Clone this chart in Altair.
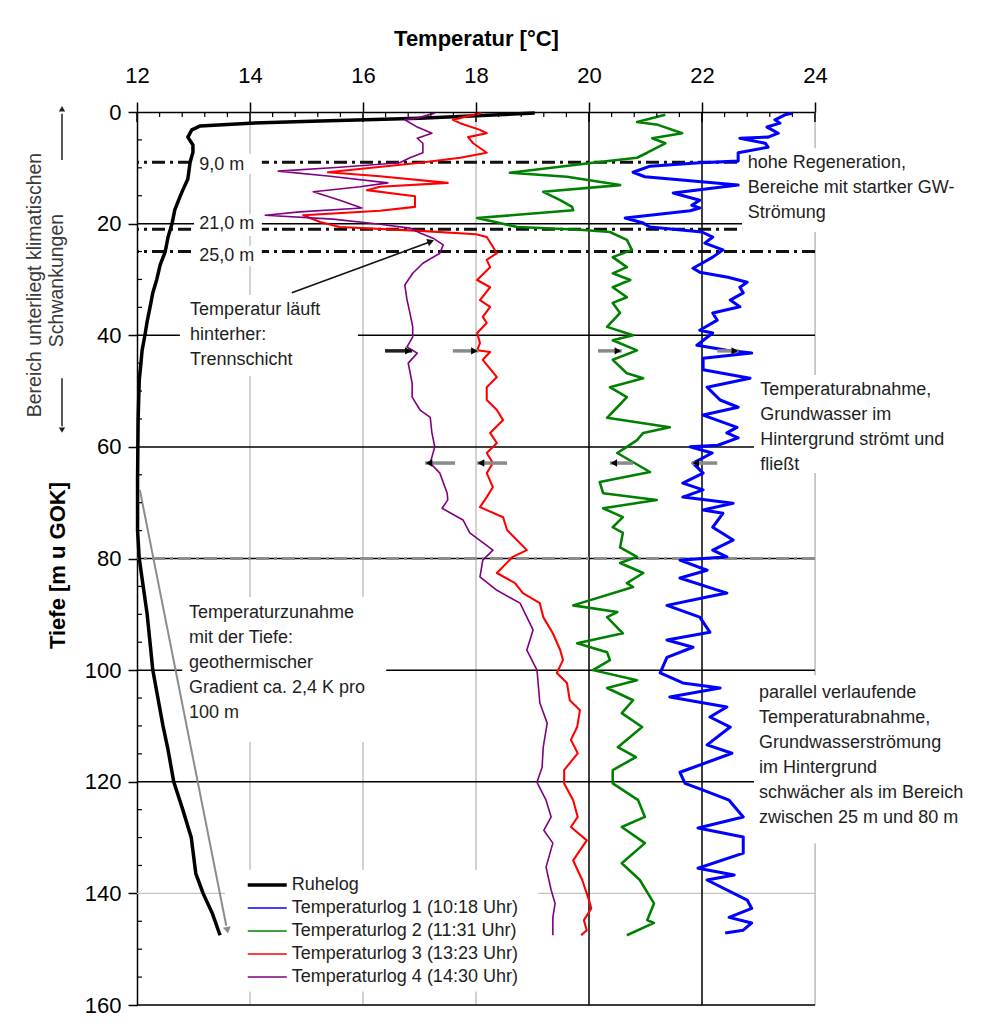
import altair as alt
import pandas as pd

FONT = "Liberation Sans"
TXT = "#1e1e1e"

# ---------------- data ----------------
series_names = ["Ruhelog", "Temperaturlog 1 (10:18 Uhr)", "Temperaturlog 2 (11:31 Uhr)",
                "Temperaturlog 3 (13:23 Uhr)", "Temperaturlog 4 (14:30 Uhr)"]
series_colors = ["#000000", "#0000ff", "#008000", "#ff0000", "#800080"]
series_widths = [3.5, 1.6, 1.6, 1.6, 1.6]

ruhe_depth = [0.2, 1.1, 1.6, 2.0, 2.5, 3.2, 4.5, 5.9, 7.2, 9, 12, 14, 15.2, 17.5, 20, 22.4, 25, 27.4, 30, 32.4,
              35, 37.5, 40, 42.7, 45, 48, 55, 66, 75, 80, 85, 90, 95, 100, 105, 110, 114.3, 120, 125, 130,
              136.4, 140, 143.5, 147.5]
ruhe_temp = [19.04, 17.0, 15.24, 14.0, 13.12, 12.97, 12.9, 12.99, 12.99, 12.94, 12.9, 12.81, 12.76, 12.67, 12.62,
             12.55, 12.5, 12.41, 12.35, 12.28, 12.23, 12.18, 12.14, 12.09, 12.07, 12.04, 12.02, 12.01, 12.01, 12.04,
             12.11, 12.18, 12.23, 12.28, 12.37, 12.46, 12.55, 12.65, 12.81, 12.96, 13.04, 13.17, 13.33, 13.47]

log1_depth = [0.2, 0.5, 1.4, 2.0, 2.7, 3.8, 4.5, 4.7, 5.6, 6.3, 7.3, 8.8, 9.1, 9.7, 10.8, 11.6, 13.1, 14.5, 15.8, 16.7,
              17.2, 17.7, 19.0, 19.9, 20.6, 21.5, 22.4, 23.5, 24.7, 26.0, 27.1, 28.0, 28.7, 29.6, 30.5, 31.4, 32.4, 33.7, 34.9, 36.0,
              37.3, 39.1, 39.6, 41.8, 42.7, 43.2, 44.1, 46.2, 47.7, 49.3, 51.6, 52.9, 54.3, 56.5, 57.5, 58.4, 59.7, 60.0, 61.1, 62.9,
              64.7, 66.5, 67.7, 69.0, 70.1, 71.3, 71.9, 74.4, 76.7, 78.5, 79.7, 80.3, 82.1, 83.5, 86.2, 86.9, 88.4, 90.5, 93.2, 94.6,
              95.9, 97.7, 100.5, 102.3, 103.2, 104.8, 106.6, 108.4, 110.2, 113.4, 114.9, 118.3, 120.3, 121.5, 123.3, 126.3, 128.3, 129.9, 132.8, 135.5,
              136.7, 137.6, 141.2, 142.7, 144.3, 145.3, 146.6, 147.1]
log1_temp = [23.61, 23.47, 23.29, 23.38, 23.15, 23.35, 23.17, 22.67, 23.12, 23.17, 22.64, 22.64, 21.96, 21.08, 20.78, 20.99, 22.64, 21.49, 21.96, 21.82,
             21.96, 21.79, 20.64, 20.96, 21.08, 22.0, 22.19, 22.05, 22.37, 22.19, 22.0, 21.84, 21.96, 22.46, 22.80, 22.67, 22.73, 22.50, 22.67, 22.19,
             22.27, 21.96, 22.19, 21.91, 22.44, 22.88, 22.02, 22.02, 22.85, 22.09, 22.32, 22.64, 22.02, 22.62, 22.44, 22.64, 22.28, 21.79, 22.18, 21.84,
             22.02, 21.66, 22.02, 21.66, 22.55, 22.02, 22.37, 22.19, 22.55, 22.19, 22.44, 21.61, 22.09, 21.61, 22.44, 22.09, 21.38, 21.96, 22.14, 21.38,
             21.84, 21.38, 21.26, 21.66, 22.32, 21.43, 22.44, 22.14, 22.50, 22.09, 22.53, 21.61, 21.70, 22.02, 22.48, 22.73, 21.93, 22.73, 22.73, 21.93,
             22.57, 22.09, 22.80, 22.88, 22.48, 22.88, 22.73, 22.41]

log2_depth = [0.5, 1.8, 2.3, 3.8, 4.7, 5.6, 7.3, 8.2, 9.1, 10.9, 11.6, 13.1, 14.3, 15.8, 17.0, 17.6, 19.0, 19.9, 20.6, 21.1,
              21.5, 22.9, 24.7, 26.0, 27.8, 28.9, 30.1, 31.4, 33.2, 34.2, 36.0, 38.5, 40.0, 40.9, 42.7, 44.4, 46.8, 47.7, 49.3, 51.1,
              52.9, 54.8, 56.5, 57.5, 58.8, 60.0, 61.1, 64.5, 66.3, 68.3, 69.5, 71.0, 72.6, 74.4, 75.4, 78.0, 79.7, 80.8, 82.6, 84.4,
              85.1, 88.4, 89.6, 90.5, 93.4, 95.2, 96.8, 98.2, 100.0, 101.8, 103.2, 105.4, 107.7, 110.2, 113.8, 115.6, 117.9, 120.3, 123.3, 126.3,
              128.1, 131.0, 134.6, 137.6, 141.8, 144.8, 145.3, 147.5]
log2_temp = [21.35, 20.85, 21.22, 21.65, 21.12, 21.35, 21.03, 20.85, 20.07, 18.60, 19.61, 20.55, 19.19, 19.49, 19.70, 19.72, 18.02, 18.42, 18.73, 19.84,
             20.37, 20.67, 20.76, 20.42, 20.67, 20.42, 20.73, 20.42, 20.67, 20.42, 20.55, 20.32, 20.78, 20.42, 20.85, 20.42, 20.67, 20.96, 20.37, 20.67,
             20.50, 20.32, 21.43, 20.96, 20.85, 20.67, 20.50, 21.08, 20.19, 20.25, 21.20, 20.25, 20.60, 20.42, 20.60, 20.55, 20.85, 20.55, 20.96, 20.67,
             20.78, 19.72, 20.50, 20.32, 20.60, 19.79, 20.32, 20.37, 20.07, 20.85, 20.32, 20.78, 20.58, 20.94, 20.51, 20.83, 20.42, 20.42, 20.87, 20.99,
             20.58, 20.99, 20.58, 20.90, 21.15, 21.03, 21.15, 20.67]

log3_depth = [0.2, 1.4, 2.0, 3.2, 3.8, 4.5, 5.6, 7.3, 8.2, 9.1, 10.8, 11.5, 12.7, 13.4, 14.0, 15.1, 17.0, 17.7, 18.5, 19.7,
              20.6, 21.3, 21.9, 22.4, 25.3, 26.5, 27.8, 30.1, 31.4, 33.7, 34.9, 36.7, 37.8, 39.6, 41.4, 42.7, 43.0, 44.4, 47.5, 49.3,
              51.6, 53.4, 55.2, 57.5, 59.3, 61.1, 62.9, 64.7, 67.2, 69.0, 70.8, 72.6, 74.9, 78.5, 79.7, 82.6, 84.4, 86.2, 88.0, 90.5,
              93.4, 96.4, 98.2, 100.5, 102.3, 105.4, 107.2, 110.2, 112.5, 114.9, 117.9, 120.3, 123.3, 126.3, 128.1, 130.5, 134.1, 137.6, 141.2, 142.7,
              144.8, 146.6, 147.5]
log3_temp = [18.09, 17.59, 17.72, 18.07, 18.19, 17.86, 17.95, 18.19, 17.72, 17.01, 15.38, 16.30, 17.50, 16.30, 16.07, 16.92, 16.92, 16.30, 14.94, 15.24,
             15.59, 17.01, 18.0, 18.19, 18.37, 18.19, 18.25, 18.02, 18.25, 18.07, 18.25, 18.12, 18.19, 18.02, 18.07, 18.02, 18.25, 18.12, 18.37, 18.19,
             18.19, 18.37, 18.48, 18.25, 18.37, 18.19, 18.30, 18.19, 18.30, 18.19, 18.07, 18.48, 18.55, 18.90, 18.65, 18.37, 18.69, 18.83, 19.13, 19.19,
             19.36, 19.49, 19.54, 19.43, 19.61, 19.66, 19.84, 19.79, 19.68, 19.80, 19.56, 19.56, 19.72, 19.80, 19.68, 19.96, 19.72, 19.88, 20.0, 20.04,
             19.91, 19.96, 19.86]

log4_depth = [0.2, 1.1, 1.4, 2.7, 3.8, 4.7, 5.6, 7.3, 8.2, 9.1, 9.9, 10.6, 11.5, 12.7, 13.4, 14.3, 15.8, 17.2, 17.9, 18.5,
              19.2, 20.1, 20.8, 21.7, 22.6, 23.8, 25.3, 27.1, 28.9, 31.0, 33.7, 36.0, 38.5, 40.3, 42.1, 43.2, 45.0, 48.6, 51.1, 53.4,
              54.7, 57.5, 60.0, 62.9, 64.7, 68.3, 69.5, 71.0, 73.1, 75.4, 78.5, 80.3, 83.3, 85.7, 88.0, 92.8, 96.4, 100.0, 105.9, 109.5,
              113.8, 117.4, 120.1, 123.3, 126.3, 128.7, 131.0, 135.3, 139.4, 141.8, 144.3, 147.5]
log4_temp = [17.27, 16.96, 16.74, 16.96, 17.22, 16.96, 17.06, 17.06, 16.83, 16.65, 15.59, 14.50, 15.42, 16.44, 15.95, 15.12, 15.59, 15.98, 14.88, 14.27,
             15.47, 16.30, 16.83, 17.01, 17.24, 17.42, 17.36, 17.06, 16.88, 16.74, 16.78, 16.83, 16.88, 16.88, 16.78, 16.96, 16.80, 16.87, 16.87, 17.01,
             17.19, 17.22, 17.27, 17.19, 17.36, 17.49, 17.50, 17.40, 17.77, 17.89, 18.30, 18.12, 18.07, 18.37, 18.78, 19.01, 18.90, 19.08, 19.13, 19.26,
             19.19, 19.17, 19.08, 19.24, 19.33, 19.20, 19.36, 19.24, 19.33, 19.40, 19.36, 19.36]

x_tick_values = [12, 14, 16, 18, 20, 22, 24]
y_tick_values = [0, 20, 40, 60, 80, 100, 120, 140, 160]
grid_gray_x = [14, 16, 18, 24]
grid_black_x = [20, 22]
grid_black_y = [20, 40, 60, 80, 100, 120, 160]
grid_gray_y = [140]
marker_depths = [9, 21, 25]
marker_labels = ["9,0 m", "21,0 m", "25,0 m"]

# ---------------- tables ----------------
rows = []
for name, ds, ts in zip(series_names,
                        [ruhe_depth, log1_depth, log2_depth, log3_depth, log4_depth],
                        [ruhe_temp, log1_temp, log2_temp, log3_temp, log4_temp]):
    for i, (d, t) in enumerate(zip(ds, ts)):
        rows.append({"series": name, "depth": d, "temp": t, "idx": i})
curves_df = pd.DataFrame(rows)

XS = alt.Scale(domain=[12, 24], nice=False, zero=False)
YS = alt.Scale(domain=[0, 160], reverse=True, nice=False, zero=False)

x_axis = alt.Axis(orient="top", values=x_tick_values, title="Temperatur [°C]", titleFont=FONT,
                  titleFontSize=22, titleFontWeight="bold", titleColor="black", titleX=339, titleY=-74,
                  titleBaseline="middle", titleAlign="center", labelFont=FONT, labelFontSize=22, labelColor="black",
                  labelBaseline="middle", labelPadding=27, labelFlush=False, labelOverlap=False, tickSize=10,
                  tickWidth=1.5, tickColor="black", domainColor="black", domainWidth=1.5, grid=False)
y_axis = alt.Axis(orient="left", values=y_tick_values, title="Tiefe [m u GOK]", titleFont=FONT, titleFontSize=22,
                  titleFontWeight="bold", titleColor="black", titleX=-80, titleY=453, titleAngle=270,
                  titleBaseline="middle", titleAlign="center", labelFont=FONT, labelFontSize=22,
                  labelColor="black", labelPadding=7, labelFlush=False, labelOverlap=False, tickSize=9,
                  tickWidth=1.5, tickColor="black", domainColor="black", domainWidth=1.5, grid=False)


def xq(f):
    return alt.X(f, type="quantitative", scale=XS, axis=x_axis)


def yq(f):
    return alt.Y(f, type="quantitative", scale=YS, axis=y_axis)


# grid lines
gl_gray_v = alt.Chart(pd.DataFrame({"t": grid_gray_x})).mark_rule(color="#b4b4b4", strokeWidth=1.2).encode(x=xq("t"))
gl_black_v = alt.Chart(pd.DataFrame({"t": grid_black_x})).mark_rule(color="black", strokeWidth=1.5).encode(x=xq("t"))
gl_black_h = alt.Chart(pd.DataFrame({"d": grid_black_y})).mark_rule(color="black", strokeWidth=1.5).encode(y=yq("d"))
gl_gray_h = alt.Chart(pd.DataFrame({"d": grid_gray_y})).mark_rule(color="#c4c4c4", strokeWidth=1.2).encode(y=yq("d"))

# dash-dot markers
dash_black = alt.Chart(pd.DataFrame({"d": marker_depths})).mark_rule(
    color="#111111", strokeWidth=3, strokeDash=[13, 5, 3, 5]).encode(y=yq("d"))
dash_80 = alt.Chart(pd.DataFrame({"d": [80]})).mark_rule(
    color="#8c8c8c", strokeWidth=3, strokeDash=[13, 5, 3, 5]).encode(y=yq("d"))

# white boxes behind annotation texts
boxes_df = pd.DataFrame({
    "t1": [12.76, 12.80, 22.71, 22.92, 22.92, 13.01, 13.01, 13.01, 13.56],
    "t2": [15.91, 16.41, 26.8, 26.8, 26.8, 14.21, 14.21, 14.21, 19.10],
    "d1": [32.8, 86.9, 6.5, 47.1, 100.9, 7.5, 18.3, 24.0, 135.8],
    "d2": [47.3, 112.9, 21.5, 64.7, 131.0, 11.1, 22.2, 27.6, 157.6],
})
boxes = alt.Chart(boxes_df).mark_rect(color="white").encode(x=xq("t1"), x2="t2", y=yq("d1"), y2="d2")

# curves
curves = alt.Chart(curves_df).mark_line(strokeJoin="round").encode(
    x=xq("temp"),
    y=yq("depth"),
    color=alt.Color("series:N", scale=alt.Scale(domain=series_names, range=series_colors), legend=None),
    strokeWidth=alt.StrokeWidth("series:N", scale=alt.Scale(domain=series_names, range=series_widths), legend=None),
    order=alt.Order("idx:Q"),
)

# small horizontal arrows
shafts_df = pd.DataFrame({
    "t1": [16.39, 17.59, 20.16, 22.27, 17.10, 18.02, 20.37, 21.82],
    "t2": [16.87, 18.04, 20.58, 22.65, 17.63, 18.55, 20.78, 22.27],
    "d": [42.8] * 4 + [62.9] * 4,
    "c": ["#202020"] + ["#8a8a8a"] * 7,
})
shafts = alt.Chart(shafts_df).mark_rule(strokeWidth=3.5).encode(
    x=xq("t1"), x2="t2", y=yq("d"), color=alt.Color("c:N", scale=None))
heads_df = pd.DataFrame({
    "t": [16.80, 17.97, 20.51, 22.58, 17.17, 18.09, 20.44, 21.89],
    "d": [42.8] * 4 + [62.9] * 4,
    "s": ["triangle-right"] * 4 + ["triangle-left"] * 4,
})
heads = alt.Chart(heads_df).mark_point(filled=True, color="black", size=55, opacity=1).encode(
    x=xq("t"), y=yq("d"), shape=alt.Shape("s:N", scale=None))

# pointer arrows
ptr_df = pd.DataFrame({"t1": [14.74, 12.05], "t2": [17.18, 13.58], "d1": [32.4, 67.7], "d2": [23.3, 145.8],
                       "c": ["#111111", "#8c8c8c"], "w": [1.6, 2.0]})
ptr = alt.Chart(ptr_df).mark_rule().encode(
    x=xq("t1"), x2="t2", y=yq("d1"), y2="d2", color=alt.Color("c:N", scale=None),
    strokeWidth=alt.StrokeWidth("w:Q", scale=None))
ptr_heads_df = pd.DataFrame({"t": [17.20, 13.60], "d": [23.2, 146.6], "a": [70, 169], "c": ["#111111", "#8c8c8c"]})
ptr_heads = alt.Chart(ptr_heads_df).mark_point(filled=True, shape="triangle-up", size=60, opacity=1).encode(
    x=xq("t"), y=yq("d"), angle=alt.Angle("a:Q", scale=None), color=alt.Color("c:N", scale=None))

# annotation texts
line_step = 4.48
blocks = [
    (12.94, 35.5, ["Temperatur läuft", "hinterher:", "Trennschicht"]),
    (12.92, 89.8, ["Temperaturzunahme", "mit der Tiefe:", "geothermischer", "Gradient ca. 2,4 K pro", "100 m"]),
    (22.81, 9.1, ["hohe Regeneration,", "Bereiche mit startker GW-", "Strömung"]),
    (23.03, 49.8, ["Temperaturabnahme,", "Grundwasser im", "Hintergrund strömt und", "fließt"]),
    (23.01, 104.1, ["parallel verlaufende", "Temperaturabnahme,", "Grundwasserströmung", "im Hintergrund",
                    "schwächer als im Bereich", "zwischen 25 m und 80 m"]),
]
trows = []
for t0, d0, lines in blocks:
    for k, s in enumerate(lines):
        trows.append({"t": t0, "d": d0 + k * line_step, "txt": s})
for s, d in zip(marker_labels, [9.5, 20.1, 25.8]):
    trows.append({"t": 13.10, "d": d, "txt": s})
notes = alt.Chart(pd.DataFrame(trows)).mark_text(
    align="left", baseline="middle", font=FONT, fontSize=18, color=TXT).encode(
    x=xq("t"), y=yq("d"), text="txt:N")

# left margin annotation (rotated)
side1 = alt.Chart(pd.DataFrame({"d": [31.0], "txt": ["Bereich unterliegt klimatischen"]})).mark_text(
    angle=270, align="center", baseline="middle", font=FONT, fontSize=19.5, color="#3a3a3a").encode(
    x=alt.value(-102), y=yq("d"), text="txt:N")
side2 = alt.Chart(pd.DataFrame({"d": [30.2], "txt": ["Schwankungen"]})).mark_text(
    angle=270, align="center", baseline="middle", font=FONT, fontSize=19.5, color="#3a3a3a").encode(
    x=alt.value(-80), y=yq("d"), text="txt:N")
side_shafts = alt.Chart(pd.DataFrame({"d1": [0.3, 47.7], "d2": [8.6, 56.3]})).mark_rule(
    color="#222222", strokeWidth=1.5).encode(x=alt.value(-75), y=yq("d1"), y2="d2")
side_heads = alt.Chart(pd.DataFrame({"d": [-0.6, 57.0], "s": ["triangle-up", "triangle-down"]})).mark_point(
    filled=True, color="#222222", size=40, opacity=1).encode(
    x=alt.value(-75), y=yq("d"), shape=alt.Shape("s:N", scale=None))

# inward ticks
x_minor = [round(12 + 0.4 * k, 1) for k in range(31) if k % 5 != 0]
y_minor = [5 * k for k in range(1, 32) if k % 4 != 0]
xt_minor = alt.Chart(pd.DataFrame({"t": x_minor})).mark_rule(color="black", strokeWidth=1.2).encode(
    x=xq("t"), y=alt.value(0), y2=alt.value(5))
xt_major = alt.Chart(pd.DataFrame({"t": x_tick_values})).mark_rule(color="black", strokeWidth=1.5).encode(
    x=xq("t"), y=alt.value(0), y2=alt.value(10))
yt_minor = alt.Chart(pd.DataFrame({"d": y_minor})).mark_rule(color="black", strokeWidth=1.2).encode(
    y=yq("d"), x=alt.value(0), x2=alt.value(5))

# manual legend
leg_df = pd.DataFrame({"name": series_names, "col": series_colors, "sw": series_widths,
                       "t1": [13.96] * 5, "t2": [14.65] * 5, "tt": [14.74] * 5,
                       "d": [138.5 + 4.12 * i for i in range(len(series_names))]})
leg_lines = alt.Chart(leg_df).mark_rule().encode(
    x=xq("t1"), x2="t2", y=yq("d"),
    color=alt.Color("col:N", scale=None), strokeWidth=alt.StrokeWidth("sw:Q", scale=None))
leg_text = alt.Chart(leg_df).mark_text(align="left", baseline="middle", font=FONT, fontSize=18, color=TXT).encode(
    x=xq("tt"), y=yq("d"), text="name:N")

chart = alt.layer(
    gl_gray_v, gl_gray_h, gl_black_v, gl_black_h, dash_80, dash_black, boxes, curves,
    shafts, heads, ptr, ptr_heads, notes, side1, side2, side_shafts, side_heads,
    xt_minor, xt_major, yt_minor, leg_lines, leg_text,
).properties(
    width=678, height=893,
    autosize=alt.AutoSizeParams(type="none"),
    padding={"left": 129, "top": 104, "right": 158, "bottom": 22},
    background="white",
).configure_view(strokeWidth=0).configure(font=FONT)

chart.save("out.html", embed_options={"renderer": "svg", "actions": False})
